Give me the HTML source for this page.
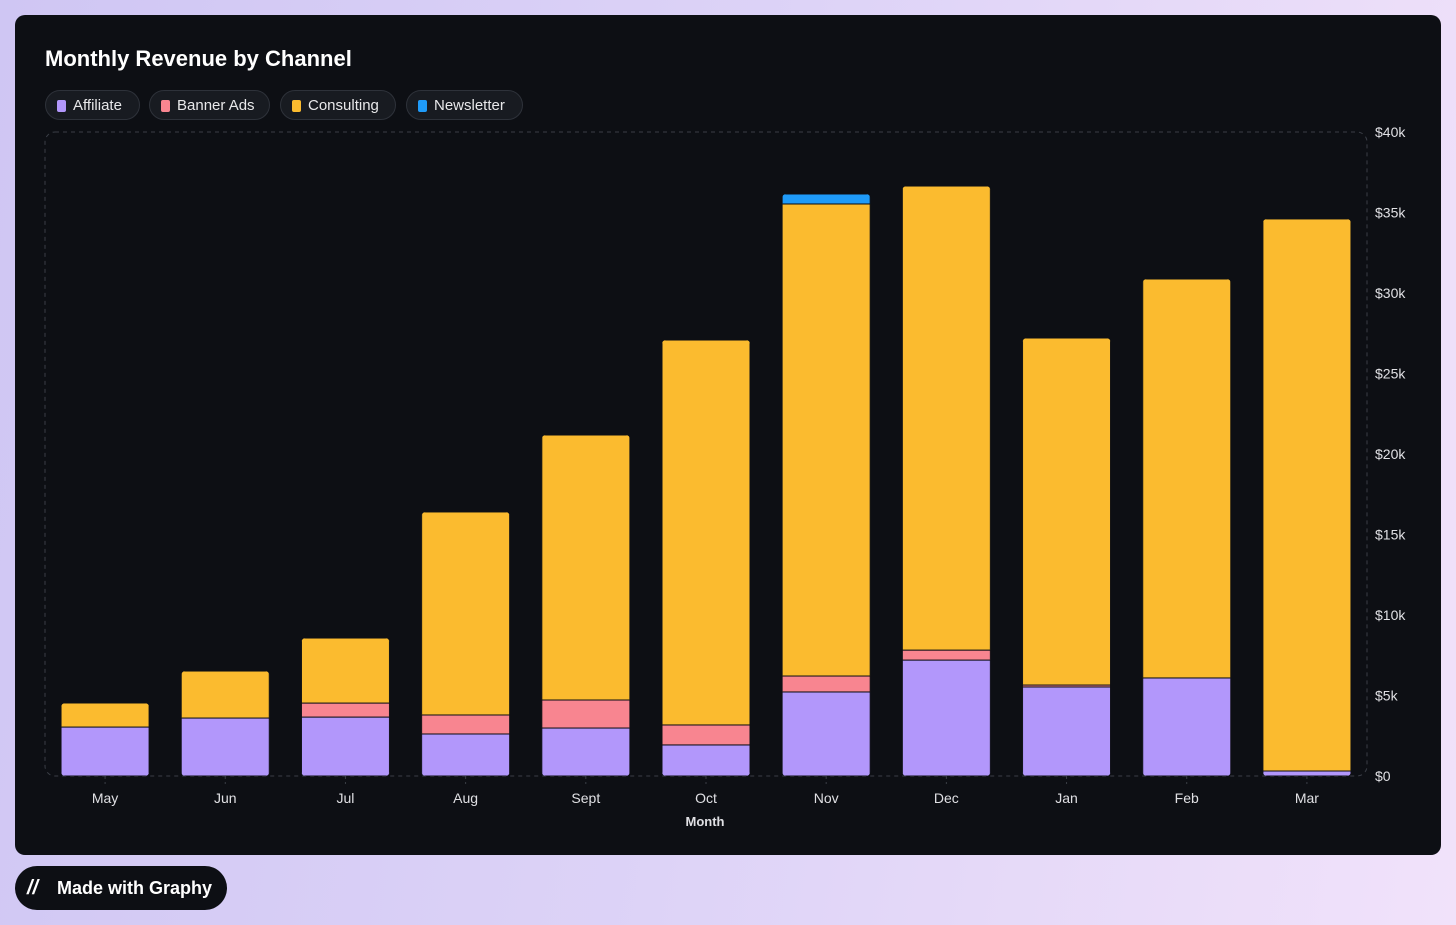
<!DOCTYPE html>
<html><head><meta charset="utf-8"><style>
body{margin:0;width:1456px;height:925px;overflow:hidden;background:linear-gradient(100deg,#cfc6f3 0%,#ddd3f7 50%,#f1e2fa 100%);font-family:"Liberation Sans",sans-serif;position:relative}
#card{position:absolute;left:15px;top:15px;width:1426px;height:840px;background:#0d0f14;border-radius:10px}
#title{position:absolute;left:30px;top:31px;color:#fff;font-size:22px;font-weight:bold}
.leg{position:absolute;top:75px;height:30px;border:1px solid #2e323a;background:#181b21;border-radius:16px;color:#e8e8ea;font-size:15px;line-height:30px;padding:0 9px 0 27px;box-sizing:border-box}
.leg i{position:absolute;left:11px;top:9px;width:9px;height:12px;border-radius:2px}
#badge{position:absolute;left:15px;top:866px;width:212px;height:44px;background:#0d0f14;border-radius:22px;color:#fff;font-weight:bold;font-size:18px;line-height:44px}
</style></head><body>
<div id="card">
<div id="title">Monthly Revenue by Channel</div>
<div class="leg" style="left:30px;width:95px"><i style="background:#b297fb"></i>Affiliate</div>
<div class="leg" style="left:134px;width:121px"><i style="background:#f88590"></i>Banner Ads</div>
<div class="leg" style="left:265px;width:116px"><i style="background:#fbbb2f"></i>Consulting</div>
<div class="leg" style="left:391px;width:117px"><i style="background:#1f9bf9"></i>Newsletter</div>
</div>
<svg id="chart" width="1456" height="925" style="position:absolute;left:0;top:0"></svg>
<div id="badge"><span style="position:absolute;left:12px;top:0;font-size:20px;font-style:italic">//</span><span style="position:absolute;left:42px">Made with Graphy</span></div>
<script>
const months=["May","Jun","Jul","Aug","Sept","Oct","Nov","Dec","Jan","Feb","Mar"];
const affiliate=[3.04,3.6,3.66,2.61,2.98,1.93,5.22,7.2,5.53,6.09,0.31];
const bannerAds=[0,0,0.87,1.18,1.74,1.24,0.99,0.62,0.12,0,0];
const consulting=[1.49,2.92,4.04,12.61,16.46,23.91,29.32,28.82,21.55,24.78,34.29];
const newsletter=[0,0,0,0,0,0,0.62,0,0,0,0];
const yTicks=[0,5,10,15,20,25,30,35,40];
const series=[["affiliate",affiliate,"#b297fb"],["banner-ads",bannerAds,"#f88590"],["consulting",consulting,"#fbbb2f"],["newsletter",newsletter,"#1f9bf9"]];
const NS="http://www.w3.org/2000/svg",svg=document.getElementById('chart');
const L=45,R=1367,T=132,B=776;
const y=v=>B-(v/40)*(B-T);
const band=(R-L)/months.length;
const x=i=>L+band*i+(band-88)/2;
function mk(t,a,p){const e=document.createElementNS(NS,t);for(const k in a)e.setAttribute(k,a[k]);(p||svg).appendChild(e);return e;}
const frame=mk('rect',{x:L,y:T,width:R-L,height:B-T,rx:10,fill:'none',stroke:'#3a3e46','stroke-dasharray':'4 4'});


yTicks.forEach(t=>{const e=mk('text',{x:1375,y:y(t)+5,fill:'#e0e0e4','font-size':14,'font-family':'Liberation Sans'});e.textContent='$'+(t?t+'k':'0');

});
months.forEach((m,i)=>{
 const cx=x(i)+44;
 const tk=mk('line',{x1:cx,x2:cx,y1:B,y2:B+8,stroke:'#3a3e46','stroke-dasharray':'3 3'});
 
 
 const lb=mk('text',{x:cx,y:803,fill:'#e0e0e4','font-size':14,'text-anchor':'middle','font-family':'Liberation Sans'});lb.textContent=m;
 
 
 let total=0;series.forEach(s=>total+=s[1][i]);
 const cid='c'+i;const cp=mk('clipPath',{id:cid});
 mk('rect',{x:x(i),y:y(total),width:88,height:B-y(total),rx:4},cp);
 const g=mk('g',{'clip-path':'url(#'+cid+')'});
 
 
 let acc=0;
 series.forEach(s=>{const v=s[1][i];if(!v)return;
  const r=mk('rect',{x:x(i),y:y(acc+v),width:88,height:y(acc)-y(acc+v),fill:s[2],stroke:'#0d0f14','stroke-width':1},g);
  
  
  acc+=v;});
});
const xt=mk('text',{x:705,y:826,fill:'#e0e0e4','font-size':13,'font-weight':'bold','text-anchor':'middle','font-family':'Liberation Sans'});xt.textContent='Month';


</script>
</body></html>
